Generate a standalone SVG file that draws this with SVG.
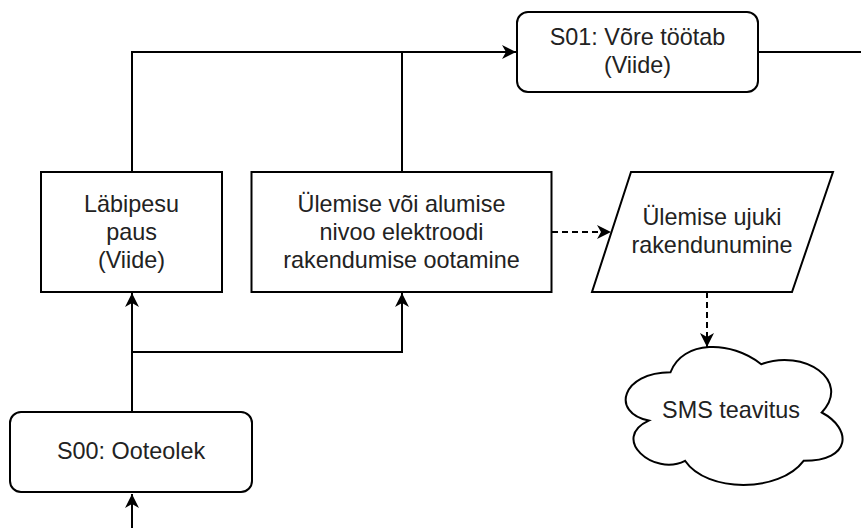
<svg xmlns="http://www.w3.org/2000/svg" width="861" height="528" viewBox="0 0 861 528">
  <style>
    .shape { fill: #ffffff; stroke: #000000; stroke-width: 2; }
    .label { font-family: "Liberation Sans", Arial, Helvetica, sans-serif; font-size: 23.4px; fill: #222222; text-anchor: middle; }
    .edge { fill: none; stroke: #000000; stroke-width: 2; }
    .dashed { stroke-dasharray: 6 4; }
  </style>
  <defs>
    <marker id="arrow" markerUnits="userSpaceOnUse" markerWidth="16" markerHeight="16" viewBox="0 0 16 16" refX="14" refY="8" orient="auto">
      <path d="M0,1 L14,8 L0,15 L4,8 Z" fill="#000000"/>
    </marker>
  </defs>

  <rect width="861" height="528" fill="#ffffff"/>

  <!-- connectors -->
  <g id="connectors">
    <!-- entry into waiting state -->
    <path class="edge" d="M132,528 L132,494" marker-end="url(#arrow)"/>
    <!-- waiting state to wash pause -->
    <path class="edge" d="M132,412 L132,293" marker-end="url(#arrow)"/>
    <!-- branch to electrode wait -->
    <path class="edge" d="M132,352 L402,352 L402,293" marker-end="url(#arrow)"/>
    <!-- wash pause to grid running -->
    <path class="edge" d="M132,172 L132,52 L516,52" marker-end="url(#arrow)"/>
    <!-- electrode wait joins top line -->
    <path class="edge" d="M402,172 L402,52"/>
    <!-- grid running onward -->
    <path class="edge" d="M758,52 L861,52"/>
    <!-- electrode wait to float trigger -->
    <path class="edge dashed" d="M552,232 L611,232" marker-end="url(#arrow)"/>
    <!-- float trigger to SMS -->
    <path class="edge dashed" d="M707,292 L707,347" marker-end="url(#arrow)"/>
  </g>

  <!-- nodes -->
  <g id="s01">
    <rect class="shape" x="517" y="12" width="241" height="80" rx="11" ry="11"/>
    <text class="label" x="637.5" y="45">S01: Võre töötab</text>
    <text class="label" x="637.5" y="73">(Viide)</text>
  </g>

  <g id="labipesu">
    <rect class="shape" x="41" y="172" width="181" height="120"/>
    <text class="label" x="131.5" y="212">Läbipesu</text>
    <text class="label" x="131.5" y="240">paus</text>
    <text class="label" x="131.5" y="268">(Viide)</text>
  </g>

  <g id="elektrood">
    <rect class="shape" x="251.5" y="172" width="300" height="120"/>
    <text class="label" x="401.5" y="212">Ülemise või alumise</text>
    <text class="label" x="401.5" y="240">nivoo elektroodi</text>
    <text class="label" x="401.5" y="268">rakendumise ootamine</text>
  </g>

  <g id="ujuk">
    <polygon class="shape" points="631,172 833,172 792,292 592,292"/>
    <text class="label" x="712" y="225">Ülemise ujuki</text>
    <text class="label" x="712" y="253">rakendunumine</text>
  </g>

  <g id="sms">
    <path class="shape" d="M670.5,372.25 C622.1,372.25 610,412.5 648.72,420.55 C610,438.26 653.56,476.9 685.02,460.8 C706.8,493 779.4,493 803.6,460.8 C852,460.8 852,428.6 821.75,412.5 C852,380.3 803.6,348.1 761.25,364.2 C731,340.05 682.6,340.05 670.5,372.25 Z"/>
    <text class="label" x="731" y="418">SMS teavitus</text>
  </g>

  <g id="s00">
    <rect class="shape" x="10" y="412" width="242" height="80" rx="11" ry="11"/>
    <text class="label" x="131" y="459">S00: Ooteolek</text>
  </g>
</svg>
